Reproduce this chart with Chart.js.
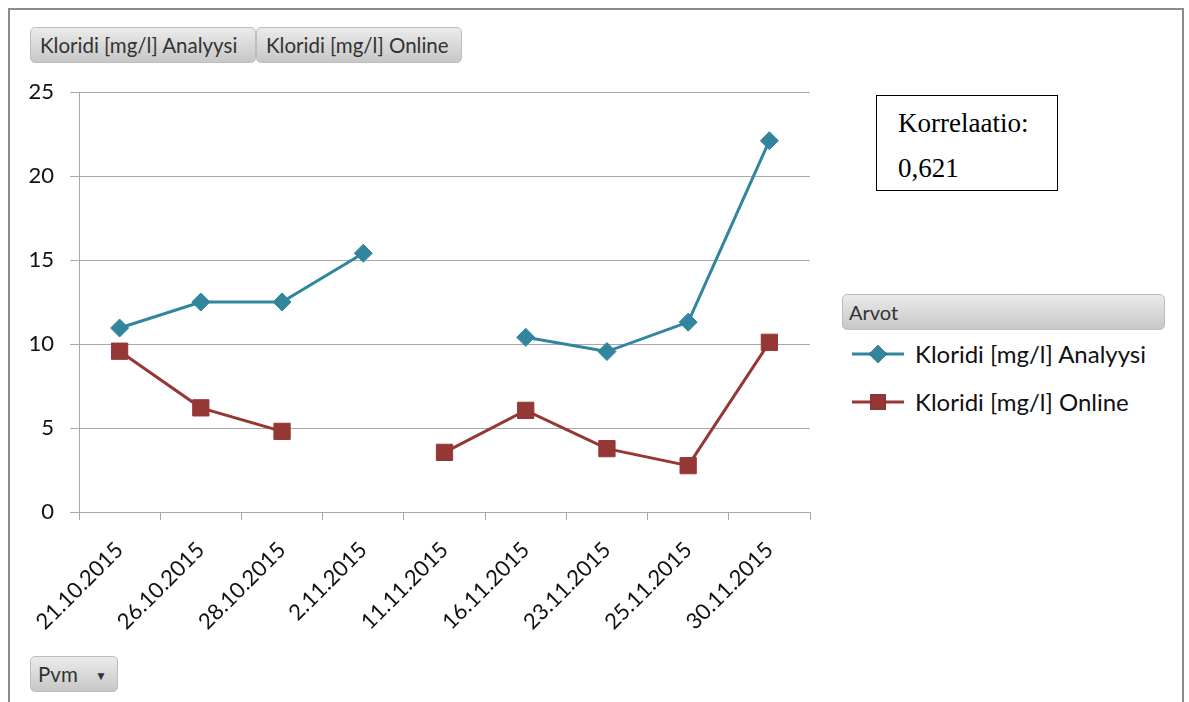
<!DOCTYPE html>
<html>
<head>
<meta charset="utf-8">
<script src="https://cdn.jsdelivr.net/npm/chart.js@4.4.0/dist/chart.umd.min.js"></script>
<style>
  body { margin: 0; background: #fff; font-family: Lato, "Open Sans", sans-serif; }
  #frame { position: absolute; left: 8px; top: 8px; width: 1172px; height: 720px;
    border: 2px solid #8c8c8c; border-bottom: none; }
  #wrap { position: absolute; left: 0; top: 0; width: 830px; height: 702px; }
  .btn { position: absolute; height: 36px; line-height: 35px; font-size: 20.5px; color: #333;
    background: linear-gradient(#ebebeb, #c7c7c7); border: 1px solid #bdbdbd; border-radius: 5px;
    box-sizing: border-box; padding: 0 9px; white-space: nowrap; }
  #corr { position: absolute; left: 876px; top: 95px; width: 182px; height: 96px; box-sizing: border-box;
    border: 1px solid #000; font-family: "Liberation Serif", serif; font-size: 27px; color: #000; }
  #corr div { position: absolute; left: 21px; }
  #legend { position: absolute; left: 850px; top: 336px; font-size: 24px; color: #111; }
  .item { position: relative; height: 48px; line-height: 36px; padding-left: 65px; white-space: nowrap; }
  .item canvas { position: absolute; left: 0; top: 7px; }
</style>
</head>
<body>
<div id="frame"></div>
<div class="btn" style="left:30px; top:27px; width:226px;">Kloridi [mg/l] Analyysi</div>
<div class="btn" style="left:256px; top:27px; width:206px;">Kloridi [mg/l] Online</div>
<div class="btn" style="left:30px; top:656px; width:88px; padding-left:7px;">Pvm <span style="font-size:12px; margin-left:12px; vertical-align:2px;">&#9660;</span></div>
<div class="btn" style="left:842px; top:294px; width:323px; padding-left:6px; font-size:20px;">Arvot</div>
<div id="corr"><div style="top:12px;">Korrelaatio:</div><div style="top:57px;">0,621</div></div>
<div id="legend"></div>
<div id="wrap"><canvas id="myChart"></canvas></div>
<script>
// categories and values
const dates = ['21.10.2015', '26.10.2015', '28.10.2015', '2.11.2015', '11.11.2015',
  '16.11.2015', '23.11.2015', '25.11.2015', '30.11.2015'];
const analyysi = [10.95, 12.5, 12.5, 15.4, null, 10.4, 9.55, 11.3, 22.1];
const online = [9.57, 6.2, 4.8, null, 3.55, 6.05, 3.77, 2.76, 10.1];
const seriesNames = ['Kloridi [mg/l] Analyysi', 'Kloridi [mg/l] Online'];
const yTicks = [0, 5, 10, 15, 20, 25];

const teal = '#31859c';
const red = '#953735';
const gridColor = '#a8a8a8';

const datasets = [
  { label: seriesNames[0], data: analyysi, borderColor: teal, backgroundColor: teal,
    pointStyle: 'rectRot', pointRadius: 9, pointBorderWidth: 1 },
  { label: seriesNames[1], data: online, borderColor: red, backgroundColor: red,
    pointStyle: 'rect', pointRadius: 11.5, pointBorderWidth: 1 }
];
datasets.forEach(function(d) {
  d.borderWidth = 3;
  d.spanGaps = false;
  d.tension = 0;
});

var ctx = document.getElementById('myChart').getContext('2d');
var chart = new Chart(ctx, {
  type: 'line',
  data: { labels: dates, datasets: datasets },
  options: {
    responsive: true,
    maintainAspectRatio: false,
    animation: false,
    layout: { padding: { top: 92, right: 20, left: 0, bottom: 0 } },
    plugins: { legend: { display: false }, tooltip: { enabled: false } },
    scales: {
      x: {
        offset: true,
        grid: { offset: true, drawOnChartArea: false, drawTicks: true, tickLength: 8, color: gridColor },
        border: { color: gridColor, width: 1 },
        ticks: { maxRotation: 45, minRotation: 45, autoSkip: false, padding: 17,
          color: '#111', font: { family: 'Lato', size: 22 } },
        afterFit: function(s) { s.height = 190; }
      },
      y: {
        min: 0, max: 25,
        afterBuildTicks: function(s) { s.ticks = yTicks.map(function(v) { return { value: v }; }); },
        grid: { color: gridColor, tickLength: 9, lineWidth: 1 },
        border: { color: gridColor, width: 1 },
        ticks: { padding: 16, color: '#111', font: { family: 'Lato', size: 22 } },
        afterFit: function(s) { s.width = 79; }
      }
    }
  }
});

// legend on the right
const legend = document.getElementById('legend');
datasets.forEach(function(d) {
  let item = document.createElement('div');
  item.className = 'item';
  let c = document.createElement('canvas');
  c.width = 56; c.height = 22;
  let g = c.getContext('2d');
  g.strokeStyle = d.borderColor; g.lineWidth = 3;
  g.beginPath(); g.moveTo(2, 11); g.lineTo(54, 11); g.stroke();
  Chart.helpers.drawPoint(g, { pointStyle: d.pointStyle, radius: d.pointStyle === 'rect' ? 11 : 9, rotation: 0, borderWidth: 0 }, 28, 11);
  g.fillStyle = d.backgroundColor; g.fill();
  item.appendChild(c);
  item.appendChild(document.createTextNode(d.label));
  legend.appendChild(item);
});
</script>
</body>
</html>
